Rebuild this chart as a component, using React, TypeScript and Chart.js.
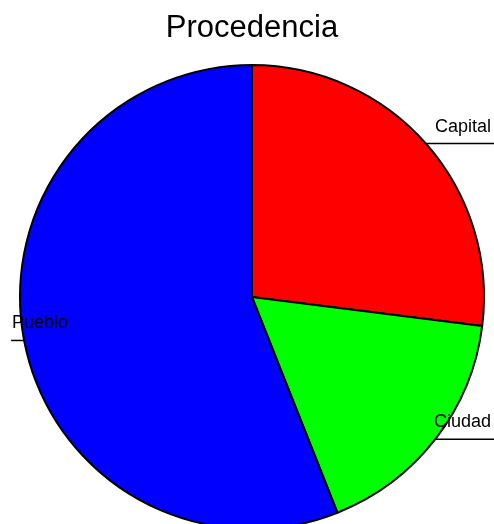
import React, { useEffect, useRef } from "react";
import { Chart, registerables } from "chart.js";

Chart.register(...registerables);

const categories = ["Capital", "Ciudad", "Pueblo"];
const values = [27, 17, 56];
const colors = ["#FF0000", "#00FF00", "#0000FF"];
const titleText = "Procedencia";

const labelPlugin = {
  id: "rPieLabels",
  afterDraw(chart: any) {
    const ctx = chart.ctx;
    const meta = chart.getDatasetMeta(0);
    const W = chart.width;
    ctx.save();
    ctx.fillStyle = "#000";
    ctx.font = '31px "Liberation Sans", Arial, sans-serif';
    ctx.textAlign = "center";
    ctx.textBaseline = "alphabetic";
    ctx.fillText(titleText, 252, 37);
    ctx.font = '18px "Liberation Sans", Arial, sans-serif';
    meta.data.forEach((arc: any, i: number) => {
      const { x, y, startAngle, endAngle, outerRadius } = arc.getProps(
        ["x", "y", "startAngle", "endAngle", "outerRadius"],
        true
      );
      const mid = (startAngle + endAngle) / 2;
      const ex = x + Math.cos(mid) * outerRadius;
      const ey = y + Math.sin(mid) * outerRadius;
      const right = Math.cos(mid) >= 0;
      ctx.strokeStyle = "#000";
      ctx.lineWidth = 1.5;
      ctx.beginPath();
      ctx.moveTo(ex, ey);
      ctx.lineTo(right ? W : ex - 13, ey);
      ctx.stroke();
      ctx.textAlign = right ? "right" : "left";
      ctx.fillText(categories[i], right ? W - 3 : 12, ey - 12);
    });
    ctx.restore();
  },
};

export default function App() {
  const ref = useRef<HTMLCanvasElement>(null);
  useEffect(() => {
    document.body.style.margin = "0";
    document.body.style.overflow = "hidden";
    const chart = new Chart(ref.current!, {
      type: "pie",
      data: {
        labels: categories,
        datasets: [
          {
            data: values,
            backgroundColor: colors,
            borderColor: "#000",
            borderWidth: 2,
          },
        ],
      },
      options: {
        animation: false,
        responsive: false,
        layout: { padding: { left: 19, right: 9, top: 64, bottom: 0 } },
        plugins: {
          legend: { display: false },
          title: { display: false },
          tooltip: { enabled: false },
        },
      },
      plugins: [labelPlugin],
    });
    return () => chart.destroy();
  }, []);
  return (
    <div style={{ width: 494, height: 524, overflow: "hidden" }}>
      <canvas ref={ref} width={494} height={530} style={{ display: "block" }} />
    </div>
  );
}
